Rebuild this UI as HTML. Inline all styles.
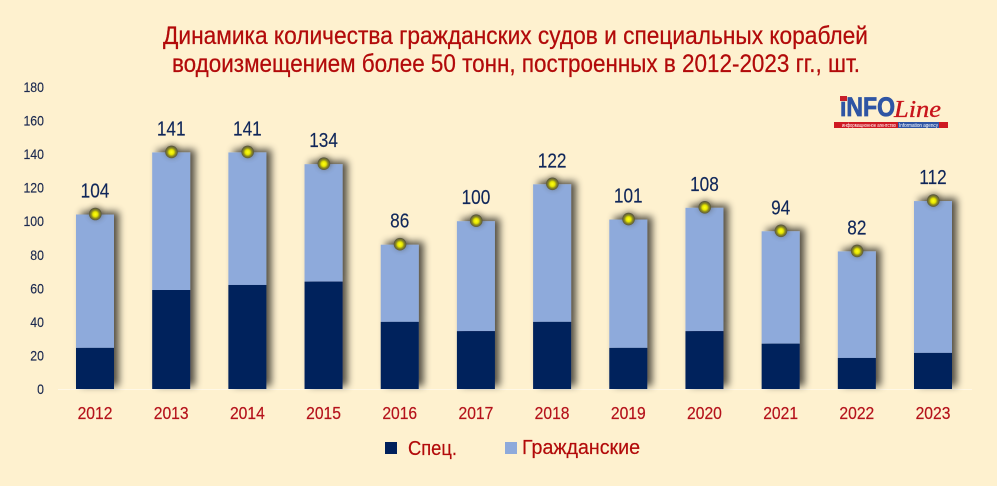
<!DOCTYPE html>
<html lang="ru">
<head>
<meta charset="utf-8">
<title>Динамика количества судов</title>
<style>
html,body{margin:0;padding:0;background:#fef1cf;}
body{width:997px;height:486px;overflow:hidden;}
svg{display:block;}
text{font-family:"Liberation Sans","DejaVu Sans",sans-serif;}
</style>
</head>
<body>
<svg id="chart" width="997" height="486" viewBox="0 0 997 486" xmlns="http://www.w3.org/2000/svg">
  <defs>
    <filter id="barShadow" x="-50%" y="-15%" width="220%" height="130%">
      <feGaussianBlur in="SourceAlpha" stdDeviation="3.8"/>
      <feOffset dx="5" dy="-3"/>
      <feComponentTransfer><feFuncA type="linear" slope="0.68"/></feComponentTransfer>
      <feMerge><feMergeNode/><feMergeNode in="SourceGraphic"/></feMerge>
    </filter>
    <filter id="haloBlur" x="-100%" y="-100%" width="300%" height="300%">
      <feGaussianBlur stdDeviation="2.6"/>
    </filter>
    <radialGradient id="ballFill" cx="50%" cy="52%" r="50%">
      <stop offset="0%" stop-color="#ffff18"/>
      <stop offset="38%" stop-color="#e6e600"/>
      <stop offset="66%" stop-color="#8c8a22"/>
      <stop offset="100%" stop-color="#55533f"/>
    </radialGradient>
  </defs>
  <rect x="0" y="0" width="997" height="486" fill="#fef1cf"/>

  <text x="515.5" y="44" text-anchor="middle" font-size="25" fill="#b20a0a" stroke="#b20a0a" stroke-width="0.25" textLength="705" lengthAdjust="spacingAndGlyphs">Динамика количества гражданских судов и специальных кораблей</text>
  <text x="516" y="72" text-anchor="middle" font-size="25" fill="#b20a0a" stroke="#b20a0a" stroke-width="0.25" textLength="688" lengthAdjust="spacingAndGlyphs">водоизмещением более 50 тонн, построенных в 2012-2023 гг., шт.</text>

  <line x1="58" y1="389.5" x2="972" y2="389.5" stroke="#fff8e6" stroke-width="1"/>
  <g id="yTicks"></g>
  <g id="bars"></g>
  <g id="xTicks"></g>

  <g>
    <text x="840" y="116" font-size="27" font-weight="bold" fill="#2f55a4" stroke="#2f55a4" stroke-width="0.8" textLength="55" lengthAdjust="spacingAndGlyphs">iNFO</text>
    <rect x="840" y="96" width="7" height="5" fill="#c8202a"/>
    <text x="894" y="117" font-size="24" font-style="italic" fill="#c8141c" stroke="#c8141c" stroke-width="0.35" style="font-family:'Liberation Serif',serif" textLength="47" lengthAdjust="spacingAndGlyphs">Line</text>
    <rect x="834" y="122" width="114" height="6" fill="#cf1a22"/>
    <rect x="898" y="122" width="41" height="6" fill="#2f55a4"/>
    <text x="842" y="127" font-size="5" fill="#ffffff" textLength="54" lengthAdjust="spacingAndGlyphs">информационное агентство</text>
    <text x="899" y="127" font-size="5" fill="#ffffff" textLength="39" lengthAdjust="spacingAndGlyphs">Information agency</text>
  </g>

  <g>
    <rect x="385" y="442" width="12" height="12" fill="#00205c"/>
    <text x="408" y="455" font-size="20" fill="#b20a0a" stroke="#b20a0a" stroke-width="0.2" textLength="49" lengthAdjust="spacingAndGlyphs">Спец.</text>
    <rect x="505" y="442" width="12" height="12" fill="#8eaadb"/>
    <text x="522" y="454" font-size="20" fill="#b20a0a" stroke="#b20a0a" stroke-width="0.2" textLength="118" lengthAdjust="spacingAndGlyphs">Гражданские</text>
  </g>
</svg>
<script>
var categories = ["2012","2013","2014","2015","2016","2017","2018","2019","2020","2021","2022","2023"];
var specValues = [24.5,59,62,64,40,34.5,40,24.5,34.5,27,18.5,21.5];
var totalValues = [104,141,141,134,86,100,122,101,108,94,82,112];
var yTickLabels = [0,20,40,60,80,100,120,140,160,180];

var NS = 'http://www.w3.org/2000/svg';
function yScale(v){ return 389 - v * (302 / 180); }
function xScale(i){ return 95 + i * (838 / 11); }
function make(tag, attrs, parent){
  var el = document.createElementNS(NS, tag);
  for (var k in attrs) el.setAttribute(k, attrs[k]);
  parent.appendChild(el);
  return el;
}
var yGroup = document.getElementById('yTicks');
var barGroup = document.getElementById('bars');
var xGroup = document.getElementById('xTicks');
var BAR_W = 38;

yTickLabels.forEach(function(t){
  var label = make('text', {x: 0, y: 0, 'text-anchor': 'end', 'font-size': 14, fill: '#1c2a50', stroke: '#1c2a50', 'stroke-width': 0.15, transform: 'translate(44,' + (yScale(t) + 5) + ') scale(0.88,1)'}, yGroup);
  
  
  label.textContent = t;
});

categories.forEach(function(cat, i){
  var cx = xScale(i);
  var x = cx - BAR_W / 2;
  var yTotal = yScale(totalValues[i]);
  var ySpec = yScale(specValues[i]);
  var y0 = yScale(0);

  var stack = make('g', {filter: 'url(#barShadow)'}, barGroup);
  
  

  var civil = make('rect', {x: x, y: yTotal, width: BAR_W, height: ySpec - yTotal, fill: '#8eaadb'}, stack);
  
  

  var spec = make('rect', {x: x, y: ySpec, width: BAR_W, height: y0 - ySpec, fill: '#00205c'}, stack);
  
  

  var halo = make('circle', {cx: cx + 1, cy: yTotal - 1.5, r: 7, fill: '#3a3620', opacity: 0.45, filter: 'url(#haloBlur)'}, barGroup);
  
  

  var ball = make('circle', {cx: cx + 0.3, cy: yTotal - 0.5, r: 6.3, fill: 'url(#ballFill)'}, barGroup);
  
  

  var val = make('text', {x: 0, y: 0, 'text-anchor': 'middle', 'font-size': 20, fill: '#10275a', stroke: '#10275a', 'stroke-width': 0.15, transform: 'translate(' + cx + ',' + (yTotal - 17) + ') scale(0.86,1)'}, barGroup);
  
  
  val.textContent = totalValues[i];

  var tick = make('text', {x: 0, y: 0, 'text-anchor': 'middle', 'font-size': 18, fill: '#b5121b', stroke: '#b5121b', 'stroke-width': 0.2, transform: 'translate(' + cx + ',419) scale(0.87,1)'}, xGroup);
  
  
  tick.textContent = cat;
});
</script>
</body>
</html>
